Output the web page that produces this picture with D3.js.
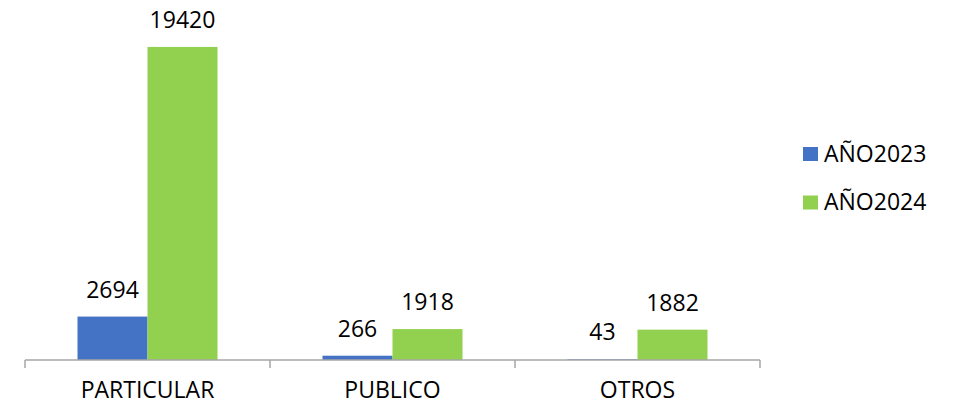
<!DOCTYPE html>
<html>
<head>
<meta charset="utf-8">
<script src="https://cdn.jsdelivr.net/npm/d3@7"></script>
<style>
  body { margin: 0; background: #fff; }
  text { font-family: "Open Sans", sans-serif; fill: #000; }
</style>
</head>
<body>
<script>
// chart data
var categories = ["PARTICULAR", "PUBLICO", "OTROS"];
var seriesNames = ["AÑO2023", "AÑO2024"];
var values2023 = [2694, 266, 43];
var values2024 = [19420, 1918, 1882];
var colors = ["#4472C4", "#92D050"];

var width = 961, height = 405;
var baseY = 360;
var fs = 23;

var svg = d3.select("body").append("svg")
    .attr("width", width)
    .attr("height", height);

var x = d3.scaleBand()
    .domain(categories)
    .range([25, 760])
    .paddingInner(0.4286)
    .paddingOuter(0.2143);

var xs = d3.scaleBand()
    .domain(seriesNames)
    .range([0, x.bandwidth()]);

var y = d3.scaleLinear()
    .domain([0, 20000])
    .range([baseY, 37.6]);

var rows = categories.map(function(c, i) {
    return { cat: c, vals: [values2023[i], values2024[i]] };
});

var groups = svg.append("g").selectAll("g")
    .data(rows)
    .enter()
    .append("g")
    .attr("transform", function(d) { return "translate(" + x(d.cat) + ",0)"; });

groups.selectAll("rect")
    .data(function(d) { return d.vals.map(function(v, j) { return { s: seriesNames[j], v: v, j: j }; }); })
    .enter()
    .append("rect")
    .attr("x", function(d) { return xs(d.s); })
    .attr("y", function(d) { return y(d.v); })
    .attr("width", xs.bandwidth())
    .attr("height", function(d) { return baseY - y(d.v); })
    .attr("fill", function(d) { return colors[d.j]; });

groups.selectAll("text")
    .data(function(d) { return d.vals.map(function(v, j) { return { s: seriesNames[j], v: v }; }); })
    .enter()
    .append("text")
    .attr("x", function(d) { return xs(d.s) + xs.bandwidth() / 2; })
    .attr("y", function(d) { return y(d.v) - 19; })
    .attr("text-anchor", "middle")
    .attr("font-size", fs)
    .text(function(d) { return d.v; });

// x axis line with ticks between categories
var axis = svg.append("g");
axis.append("line")
    .attr("x1", x.range()[0]).attr("x2", x.range()[1])
    .attr("y1", baseY).attr("y2", baseY)
    .attr("stroke", "#a6a6a6").attr("stroke-width", 1.5);

var tickXs = categories.map(function(c) { return x(c) - x.step() * x.paddingInner() / 2; });
tickXs.push(x.range()[1]);
axis.selectAll("line.tick")
    .data(tickXs)
    .enter()
    .append("line")
    .attr("class", "tick")
    .attr("x1", function(d) { return d; }).attr("x2", function(d) { return d; })
    .attr("y1", baseY).attr("y2", baseY + 8)
    .attr("stroke", "#a6a6a6").attr("stroke-width", 1.5);

axis.selectAll("text")
    .data(categories)
    .enter()
    .append("text")
    .attr("x", function(d) { return x(d) + x.bandwidth() / 2; })
    .attr("y", 398)
    .attr("text-anchor", "middle")
    .attr("font-size", fs)
    .text(function(d) { return d; });

// legend
var legend = svg.append("g").selectAll("g")
    .data(seriesNames)
    .enter()
    .append("g")
    .attr("transform", function(d, i) { return "translate(803," + (147 + i * 48.5) + ")"; });

legend.append("rect")
    .attr("width", 15).attr("height", 14)
    .attr("fill", function(d, i) { return colors[i]; });

legend.append("text")
    .attr("x", 21).attr("y", 14.5)
    .attr("font-size", fs)
    .text(function(d) { return d; });
</script>
</body>
</html>
